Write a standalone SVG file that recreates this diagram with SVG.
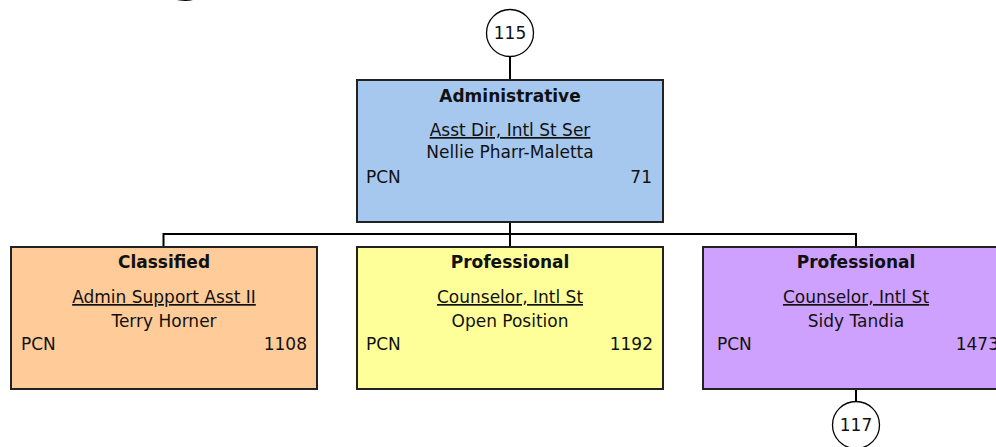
<svg xmlns="http://www.w3.org/2000/svg" width="996" height="447" viewBox="0 0 996 447">
<style>
.box{stroke:#222;stroke-width:2}
.t{font-family:"DejaVu Sans",Verdana,sans-serif;font-size:17px;fill:#111}
.b{font-weight:bold;text-anchor:middle}
.c{text-anchor:middle}
.u{text-decoration:underline}
.r{text-anchor:end}
.ln{stroke:#000;stroke-width:2;fill:none}
.circ{fill:#fff;stroke:#000;stroke-width:1.3}
</style>
<rect width="996" height="447" fill="#fff"/>
<text x="168" y="-11" font-family="DejaVu Sans,sans-serif" font-size="56" font-weight="bold" fill="#000">g</text>
<g id="connectors">
<line class="ln" x1="510" y1="57" x2="510" y2="80"/>
<polyline class="ln" points="510,222 510,234 163.5,234 163.5,247"/>
<polyline class="ln" points="510,234 856,234 856,247"/>
<line class="ln" x1="510" y1="234" x2="510" y2="247"/>
<line class="ln" x1="856" y1="389" x2="856" y2="402"/>
</g>
<g id="ref115">
<circle class="circ" cx="510" cy="33" r="23.5"/>
<text class="t c" x="510" y="39">115</text>
</g>
<g id="admin">
<rect class="box" x="357" y="80" width="306" height="142" fill="#A6C8EE"/>
<text class="t b" x="510" y="102">Administrative</text>
<text class="t c u" x="510" y="136">Asst Dir, Intl St Ser</text>
<text class="t c" x="510" y="158">Nellie Pharr-Maletta</text>
<text class="t" x="366" y="183">PCN</text>
<text class="t r" x="652" y="183">71</text>
</g>
<g id="classified">
<rect class="box" x="11" y="247" width="306" height="142" fill="#FFCC99"/>
<text class="t b" x="164" y="268">Classified</text>
<text class="t c u" x="164" y="303">Admin Support Asst II</text>
<text class="t c" x="164" y="327">Terry Horner</text>
<text class="t" x="21" y="350">PCN</text>
<text class="t r" x="307" y="350">1108</text>
</g>
<g id="prof1">
<rect class="box" x="357" y="247" width="306" height="142" fill="#FFFF99"/>
<text class="t b" x="510" y="268">Professional</text>
<text class="t c u" x="510" y="303">Counselor, Intl St</text>
<text class="t c" x="510" y="327">Open Position</text>
<text class="t" x="366" y="350">PCN</text>
<text class="t r" x="653" y="350">1192</text>
</g>
<g id="prof2">
<rect class="box" x="703" y="247" width="306" height="142" fill="#CFA1FF"/>
<text class="t b" x="856" y="268">Professional</text>
<text class="t c u" x="856" y="303">Counselor, Intl St</text>
<text class="t c" x="856" y="327">Sidy Tandia</text>
<text class="t" x="717" y="350">PCN</text>
<text class="t r" x="999" y="350">1473</text>
</g>
<g id="ref117">
<circle class="circ" cx="856" cy="425" r="23.5"/>
<text class="t c" x="856" y="431">117</text>
</g>
</svg>
